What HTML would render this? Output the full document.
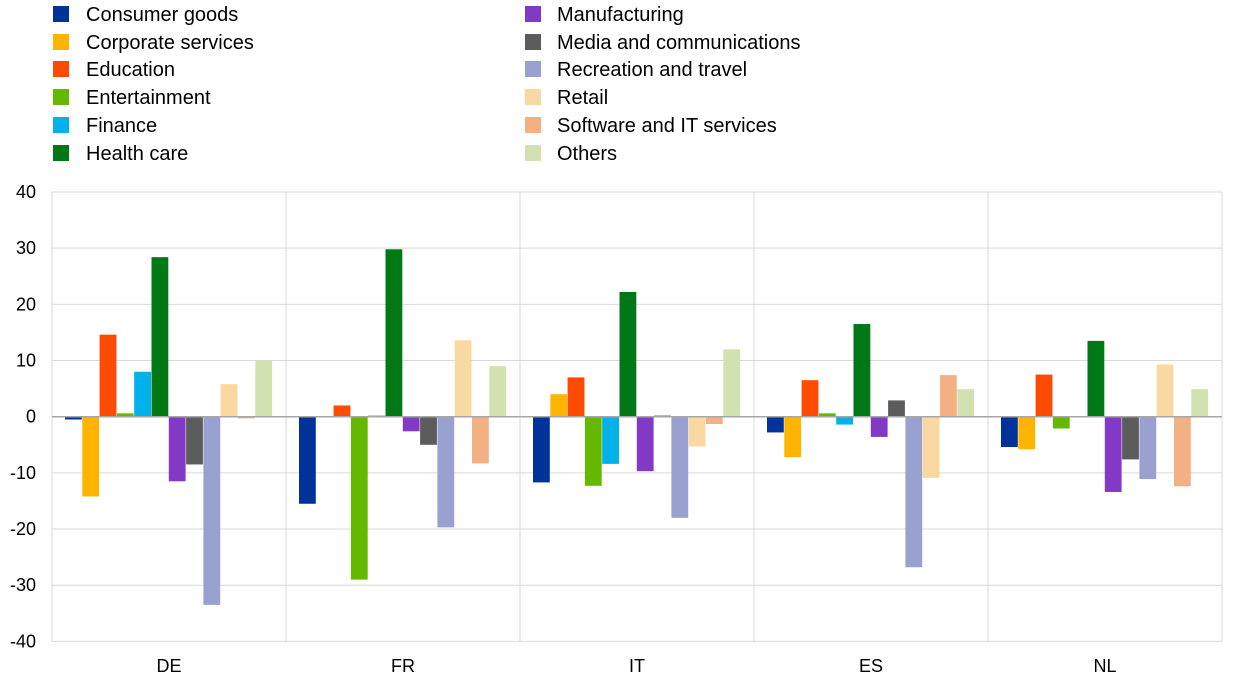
<!DOCTYPE html>
<html><head><meta charset="utf-8"><style>
body{margin:0;background:#fff;}
svg text{font-family:"Liberation Sans",Arial,sans-serif;font-size:18px;fill:#000;}
svg text.lg{font-size:20px;}
</style></head><body>
<svg width="1240" height="683" xmlns="http://www.w3.org/2000/svg" id="s">
</svg>
<script>
(function(){
const s=document.getElementById('s');
const ns='http://www.w3.org/2000/svg';
function el(t,a,txt){const e=document.createElementNS(ns,t);for(const k in a)e.setAttribute(k,a[k]);if(txt!=null)e.textContent=txt;s.appendChild(e);return e;}
const names=["Consumer goods","Corporate services","Education","Entertainment","Finance","Health care","Manufacturing","Media and communications","Recreation and travel","Retail","Software and IT services","Others"];
const cols=["#003399","#ffb400","#ff4b00","#65b800","#00b1ea","#007816","#8139c6","#5c5c5c","#98a1d0","#fad8a2","#f3b183","#d1e1af"];
const rows=[14,42,69,97,125,153];
names.forEach((n,i)=>{const c=i<6?0:1,r=i%6;const x=c?525:53;
el('rect',{x:x,y:rows[r]-8,width:16,height:16,fill:cols[i]});
el('text',{x:c?557:86,y:rows[r]+7,'class':'lg'},n);});
const T=192,Z=416.7,L=52,R=1222;const sc=(Z-T)/40;
for(let v=-40;v<=40;v+=10){const y=Z-v*sc;
if(v!==0)el('line',{x1:L,x2:R,y1:y,y2:y,stroke:'#d9d9d9','stroke-width':1});
el('text',{x:36,y:y+6,'text-anchor':'end'},v);}
for(let g=0;g<=5;g++){const x=L+g*234;el('line',{x1:x,x2:x,y1:T,y2:642,stroke:'#d9d9d9','stroke-width':1});}
const data=[[-0.5,-14.2,14.6,0.6,8,28.4,-11.5,-8.5,-33.5,5.8,-0.3,10],
[-15.5,0,2,-29,0.2,29.8,-2.6,-5,-19.7,13.6,-8.3,9],
[-11.7,4,7,-12.3,-8.4,22.2,-9.7,0.2,-18,-5.3,-1.3,12],
[-2.8,-7.2,6.5,0.6,-1.4,16.5,-3.6,2.9,-26.8,-10.9,7.4,4.9],
[-5.4,-5.8,7.5,-2.1,0,13.5,-13.4,-7.6,-11.1,9.3,-12.4,4.9]];
const labs=["DE","FR","IT","ES","NL"];
data.forEach((d,g)=>{const gx=L+g*234;
d.forEach((v,i)=>{const x=gx+13+i*17.3;const h=Math.abs(v)*sc;
el('rect',{x:x,y:v>=0?Z-h:Z,width:16.8,height:Math.max(h,0.5),fill:cols[i]});});
el('text',{x:gx+117,y:672,'text-anchor':'middle'},labs[g]);});
el('line',{x1:L,x2:R,y1:Z,y2:Z,stroke:'#a6a6a6','stroke-width':1.5});
})();
</script>
</body></html>
